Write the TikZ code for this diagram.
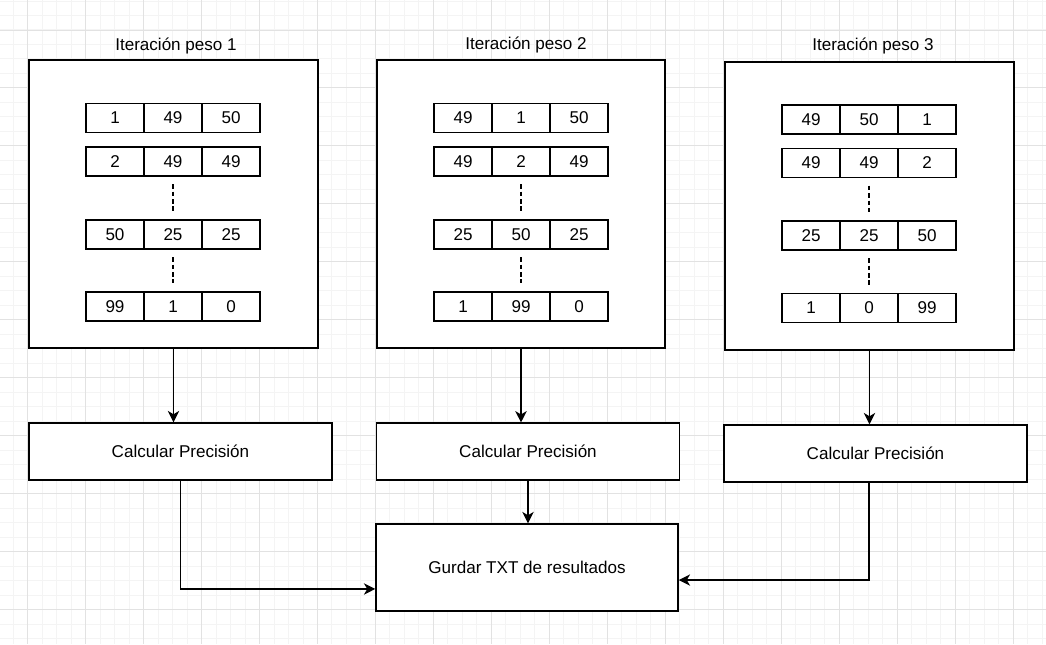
\documentclass[tikz,border=0pt]{standalone}
\usepackage{fontspec}
\setmainfont{Liberation Sans}
\usepackage{tikz}
\usetikzlibrary{arrows.meta, positioning}
\definecolor{gridmajor}{RGB}{226,226,226}
\definecolor{gridminor}{RGB}{244,244,244}

\begin{document}
\begin{tikzpicture}[x=0.75pt, y=-0.75pt,
	every node/.style={font=\fontsize{12.8}{15}\selectfont},
	cell/.style={draw, line width=1.1pt, minimum width=43.5pt, minimum height=21.75pt, inner sep=0pt},
	frame/.style={draw, line width=1.1pt, minimum width=216.75pt, minimum height=216pt},
	procbox/.style={draw, line width=1.1pt, minimum width=227.5pt, minimum height=42.75pt},
	flow/.style={-{Stealth[length=8.5pt, width=8.5pt, inset=2.5pt]}, line width=1.1pt},
	dots/.style={dash pattern=on 3.4pt off 2.2pt, line width=1.1pt, shorten <=5.5pt, shorten >=6pt}]
	\useasboundingbox[fill=white] (0,0) rectangle (1046,644);
	
	% background grid
	\foreach \k in {0,...,72}
		\draw[gridminor, line width=0.75pt] ({13.2+14.49*\k},0) -- ({13.2+14.49*\k},644);
	\foreach \k in {0,...,44}
		\draw[gridminor, line width=0.75pt] (0,{1.0+14.49*\k}) -- (1046,{1.0+14.49*\k});
	\foreach \k in {0,...,17}
		\draw[gridmajor, line width=0.75pt] ({27.7+57.96*\k},0) -- ({27.7+57.96*\k},644);
	\foreach \k in {0,...,10}
		\draw[gridmajor, line width=0.75pt] (0,{30+57.96*\k}) -- (1046,{30+57.96*\k});
	
	% frames
	\node[frame, fill=white] (f1) at (173.5,204) {};
	\node[frame, fill=white, minimum width=216pt] (f2) at (521,204) {};
	\node[frame, fill=white] (f3) at (869.5,205.8) {};
	\node (t1) at (176,46) {Iteración peso 1};
	\node (t2) at (526,45) {Iteración peso 2};
	\node (t3) at (873,46) {Iteración peso 3};
	
	% peso 1
	\node[cell] (a11) at (115,118) {1};   \node[cell] (a12) at (173,118) {49};  \node[cell] (a13) at (231,118) {50};
	\node[cell] (a21) at (115,161.5) {2}; \node[cell] (a22) at (173,161.5) {49}; \node[cell] (a23) at (231,161.5) {49};
	\node[cell] (a31) at (115,234.5) {50}; \node[cell] (a32) at (173,234.5) {25}; \node[cell] (a33) at (231,234.5) {25};
	\node[cell] (a41) at (115,306.5) {99}; \node[cell] (a42) at (173,306.5) {1}; \node[cell] (a43) at (231,306.5) {0};
	
	% peso 2
	\node[cell] (b11) at (463,118) {49};  \node[cell] (b12) at (521,118) {1};   \node[cell] (b13) at (579,118) {50};
	\node[cell] (b21) at (463,161.5) {49}; \node[cell] (b22) at (521,161.5) {2}; \node[cell] (b23) at (579,161.5) {49};
	\node[cell] (b31) at (463,234.5) {25}; \node[cell] (b32) at (521,234.5) {50}; \node[cell] (b33) at (579,234.5) {25};
	\node[cell] (b41) at (463,306.5) {1}; \node[cell] (b42) at (521,306.5) {99}; \node[cell] (b43) at (579,306.5) {0};
	
	% peso 3
	\node[cell] (d11) at (811,119.5) {49}; \node[cell] (d12) at (869,119.5) {50}; \node[cell] (d13) at (927,119.5) {1};
	\node[cell] (d21) at (811,163) {49};  \node[cell] (d22) at (869,163) {49};  \node[cell] (d23) at (927,163) {2};
	\node[cell] (d31) at (811,235.5) {25}; \node[cell] (d32) at (869,235.5) {25}; \node[cell] (d33) at (927,235.5) {50};
	\node[cell] (d41) at (811,308) {1};   \node[cell] (d42) at (869,308) {0};   \node[cell] (d43) at (927,308) {99};
	
	\draw[dots] (a22.south) -- (a32.north);
	\draw[dots] (a32.south) -- (a42.north);
	\draw[dots] (b22.south) -- (b32.north);
	\draw[dots] (b32.south) -- (b42.north);
	\draw[dots] (d22.south) -- (d32.north);
	\draw[dots] (d32.south) -- (d42.north);
	
	% processing
	\node[procbox, fill=white] (c1) at (180.5,451.5) {Calcular Precisión};
	\node[procbox, fill=white] (c2) at (528,451.7) {Calcular Precisión};
	\node[procbox, fill=white] (c3) at (875.5,453.5) {Calcular Precisión};
	\node[procbox, fill=white, minimum width=226.5pt, minimum height=65.25pt] (g) at (527,567.5) {Gurdar TXT de resultados};
	
	\coordinate (gin1) at ([yshift=-16.1pt]g.west);
	\coordinate (gin3) at ([yshift=-9.4pt]g.east);
	
	\draw[flow] (f1.south) -- (f1.south |- c1.north);
	\draw[flow] (f2.south) -- (f2.south |- c2.north);
	\draw[flow] (f3.south) -- (f3.south |- c3.north);
	
	\draw[flow] (c2.south) -- (c2.south |- g.north);
	\draw[flow] (c1.south) |- (gin1);
	\draw[flow] ([xshift=-4.9pt]c3.south) |- (gin3);
\end{tikzpicture}
\end{document}
